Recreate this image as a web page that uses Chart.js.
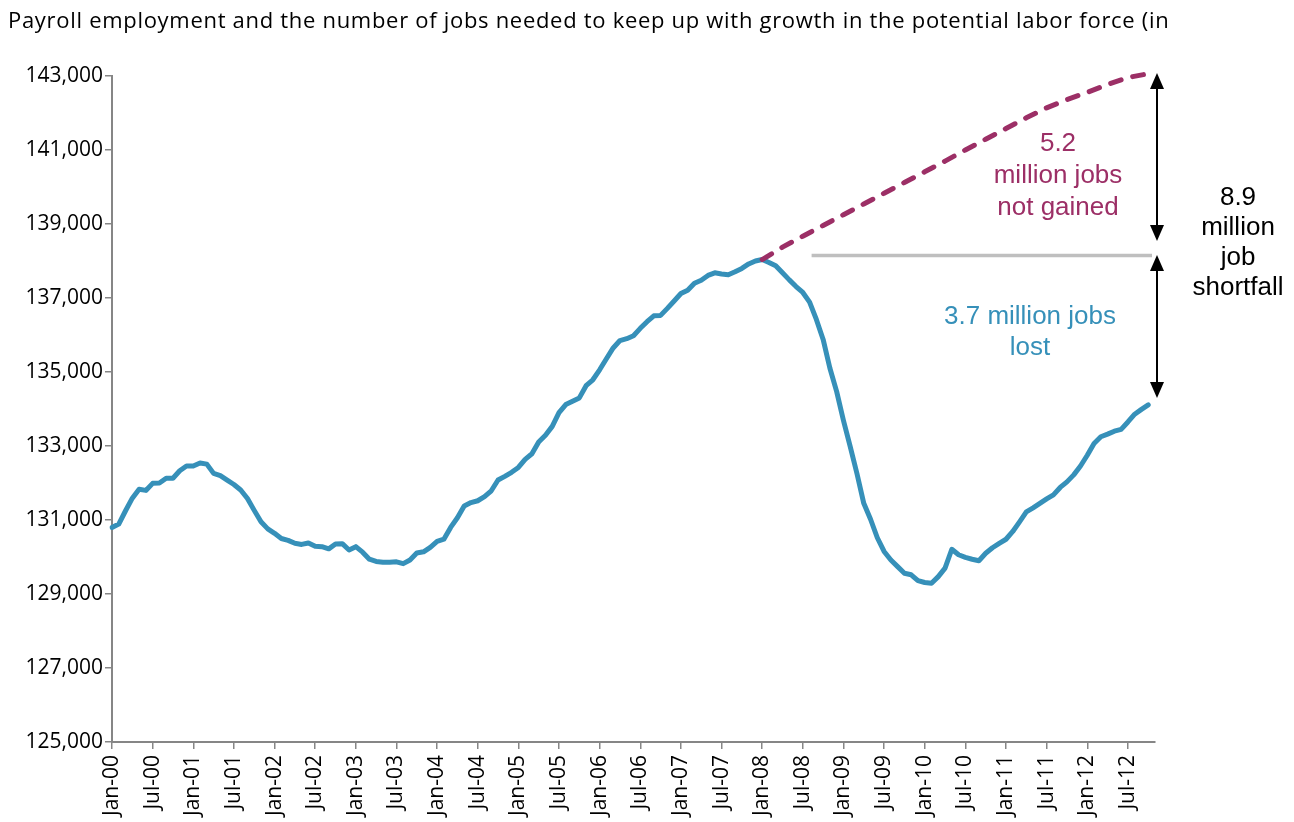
<!DOCTYPE html>
<html>
<head>
<meta charset="utf-8">
<title>Payroll employment and jobs needed</title>
<script src="https://cdn.jsdelivr.net/npm/chart.js@4.4.0/dist/chart.umd.js"></script>
<style>
    html, body { margin: 0; padding: 0; background: #ffffff; }
    #wrap { position: relative; width: 1294px; height: 822px; }
</style>
</head>
<body>
<div id="wrap"><canvas id="payroll-chart"></canvas></div>
<script>
// ---- data ----
const monthNames = ['Jan', 'Feb', 'Mar', 'Apr', 'May', 'Jun', 'Jul', 'Aug', 'Sep', 'Oct', 'Nov', 'Dec'];
const yearNames = ['00', '01', '02', '03', '04', '05', '06', '07', '08', '09', '10', '11', '12'];
const lastMonthOfAxis = 'Nov-12';

// payroll employment (thousands), Jan-00 .. Oct-12
const payroll = [
    130800, 130890, 131250, 131590, 131830, 131800, 131990, 132000, 132130, 132130, 132330, 132460,
    132460, 132540, 132510, 132260, 132200, 132080, 131960, 131810, 131580, 131260, 130950, 130760,
    130640, 130500, 130450, 130370, 130340, 130380, 130290, 130280, 130220, 130350, 130360, 130190,
    130280, 130130, 129940, 129880, 129860, 129860, 129870, 129820, 129920, 130110, 130140, 130260,
    130420, 130480, 130800, 131060, 131380, 131470, 131520, 131630, 131790, 132080, 132180, 132290,
    132420, 132640, 132790, 133110, 133290, 133530, 133900, 134120, 134210, 134300, 134630, 134790,
    135060, 135360, 135650, 135850, 135900, 135980, 136180, 136360, 136520, 136530, 136720, 136920,
    137120, 137210, 137400, 137480, 137610, 137680, 137650, 137630, 137710, 137800, 137920, 138000,
    138040, 137960, 137870, 137680, 137490, 137310, 137150, 136890, 136420, 135880, 135100, 134470,
    133690, 132980, 132250, 131450, 131020, 130520, 130150, 129920, 129740, 129560, 129520, 129360,
    129310, 129290, 129470, 129700, 130210, 130060, 129990, 129940, 129900, 130100, 130250, 130370,
    130480, 130690, 130950, 131220, 131330, 131450, 131570, 131680, 131880, 132030, 132220, 132460,
    132750, 133070, 133250, 133320, 133400, 133450, 133650, 133860, 133990, 134110
];

// jobs needed to keep up with the potential labor force, read every 3 months from Jan-08
const potentialFrom = 'Jan-08';
const potentialStep = 3;
const potential = [
    138040, 138375, 138670, 138960, 139250, 139540, 139830, 140120, 140410, 140700,
    141000, 141290, 141580, 141870, 142140, 142360, 142560, 142770, 142960, 143060
];

const yTicks = [125000, 127000, 129000, 131000, 133000, 135000, 137000, 139000, 141000, 143000];

// annotation values
const gapLineFrom = 'Aug-08';
const gapLevel = 138150;
const notGainedArrow = [143080, 138540];
const lostArrow = [138160, 134300];
const notGainedText = ['5.2', 'million jobs', 'not gained'];
const lostText = ['3.7 million jobs', 'lost'];
const shortfallText = ['8.9', 'million', 'job', 'shortfall'];
const titleText = 'Payroll employment and the number of jobs needed to keep up with growth in the potential labor force (in';

// ---- colours / fonts ----
const BLUE = '#3690B9';
const PLUM = '#9C2F66';
const AXIS = '#868686';
const Y_FONT = { family: "'Open Sans', sans-serif", size: 21 };
const X_FONT = { family: "'Open Sans', sans-serif", size: 21 };
const NOTE_FONT = "26px 'Liberation Sans', Arial, sans-serif";

// build category labels Jan-00 .. Nov-12
const labels = [];
yearNames.forEach(yr => monthNames.forEach(m => labels.push(m + '-' + yr)));
labels.length = labels.indexOf(lastMonthOfAxis) + 1;

const payrollSeries = labels.map((_, i) => (i < payroll.length ? payroll[i] : null));
const potentialSeries = labels.map(() => null);
const potStart = labels.indexOf(potentialFrom);
potential.forEach((v, k) => { potentialSeries[potStart + k * potentialStep] = v; });

/**
 * draw a vertical double-headed arrow
 */
function doubleArrow(ctx, x, yTop, yBottom) {
    const head = 16, half = 7;
    ctx.beginPath();
    ctx.moveTo(x, yTop + head - 2);
    ctx.lineTo(x, yBottom - head + 2);
    ctx.stroke();
    ctx.beginPath();
    ctx.moveTo(x, yTop);
    ctx.lineTo(x - half, yTop + head);
    ctx.lineTo(x + half, yTop + head);
    ctx.closePath();
    ctx.fill();
    ctx.beginPath();
    ctx.moveTo(x, yBottom);
    ctx.lineTo(x - half, yBottom - head);
    ctx.lineTo(x + half, yBottom - head);
    ctx.closePath();
    ctx.fill();
}

function textBlock(ctx, lines, cx, cy, lineHeight, color) {
    ctx.fillStyle = color;
    ctx.font = NOTE_FONT;
    ctx.textAlign = 'center';
    ctx.textBaseline = 'middle';
    lines.forEach((t, k) => ctx.fillText(t, cx, cy + k * lineHeight));
}

// title, grey level line, arrows and notes
const notesPlugin = {
    id: 'shortfallNotes',
    afterDatasetsDraw(chart) {
        const { ctx, chartArea, scales: { x, y } } = chart;
        ctx.save();

        ctx.fillStyle = '#000';
        ctx.font = "22px 'Open Sans', sans-serif";
        ctx.letterSpacing = '0.7px';
        ctx.textAlign = 'left';
        ctx.textBaseline = 'middle';
        ctx.fillText(titleText, 8, 22);
        ctx.letterSpacing = '0px';

        // grey line at pre-recession peak
        const gy = y.getPixelForValue(gapLevel);
        ctx.strokeStyle = '#BFBFBF';
        ctx.lineWidth = 3.5;
        ctx.beginPath();
        ctx.moveTo(x.getPixelForValue(labels.indexOf(gapLineFrom)) + 2, gy);
        ctx.lineTo(chartArea.right - 3, gy);
        ctx.stroke();

        // arrows
        const ax = chartArea.right + 2;
        ctx.strokeStyle = '#000';
        ctx.fillStyle = '#000';
        ctx.lineWidth = 2;
        doubleArrow(ctx, ax, y.getPixelForValue(notGainedArrow[0]), y.getPixelForValue(notGainedArrow[1]));
        doubleArrow(ctx, ax, y.getPixelForValue(lostArrow[0]), y.getPixelForValue(lostArrow[1]));

        textBlock(ctx, notGainedText, chartArea.right - 97, y.getPixelForValue(141170), 32, PLUM);
        textBlock(ctx, lostText, chartArea.right - 125, y.getPixelForValue(136500), 31, BLUE);
        textBlock(ctx, shortfallText, chartArea.right + 83, y.getPixelForValue(139700), 30, '#000');

        ctx.restore();
    }
};

const ctx = document.getElementById('payroll-chart').getContext('2d');
new Chart(ctx, {
    type: 'line',
    data: {
        labels,
        datasets: [{
            label: 'Jobs needed',
            data: potentialSeries,
            borderColor: PLUM,
            borderWidth: 5,
            borderDash: [11, 12],
            borderCapStyle: 'round',
            spanGaps: true,
            pointRadius: 0,
            tension: 0,
            clip: false
        }, {
            label: 'Payroll employment',
            data: payrollSeries,
            borderColor: BLUE,
            borderWidth: 5,
            borderCapStyle: 'round',
            borderJoinStyle: 'round',
            pointRadius: 0,
            tension: 0
        }]
    },
    options: {
        responsive: true,
        maintainAspectRatio: false,
        animation: false,
        layout: { padding: { left: 0, right: 139, top: 76, bottom: 0 } },
        plugins: {
            legend: { display: false },
            tooltip: { enabled: false },
            title: { display: false }
        },
        scales: {
            x: {
                offset: false,
                afterBuildTicks: s => { s.ticks = s.ticks.filter(t => t.value % 6 === 0); },
                afterFit: s => { s.height = 80; },
                ticks: {
                    autoSkip: false,
                    minRotation: 90,
                    maxRotation: 90,
                    padding: 6,
                    color: '#000',
                    font: X_FONT
                },
                grid: { drawOnChartArea: false, drawTicks: true, tickLength: 7, color: AXIS, lineWidth: 1.5 },
                border: { display: true, color: AXIS, width: 2 }
            },
            y: {
                min: yTicks[0],
                max: yTicks[yTicks.length - 1],
                afterBuildTicks: s => { s.ticks = yTicks.map(v => ({ value: v })); },
                afterFit: s => { s.width = 112; },
                ticks: {
                    padding: 2,
                    color: '#000',
                    font: Y_FONT,
                    callback: v => v.toLocaleString('en-US')
                },
                grid: { drawOnChartArea: false, drawTicks: true, tickLength: 7, color: AXIS, lineWidth: 1.5 },
                border: { display: true, color: AXIS, width: 2 }
            }
        }
    },
    plugins: [notesPlugin]
});
</script>
</body>
</html>
